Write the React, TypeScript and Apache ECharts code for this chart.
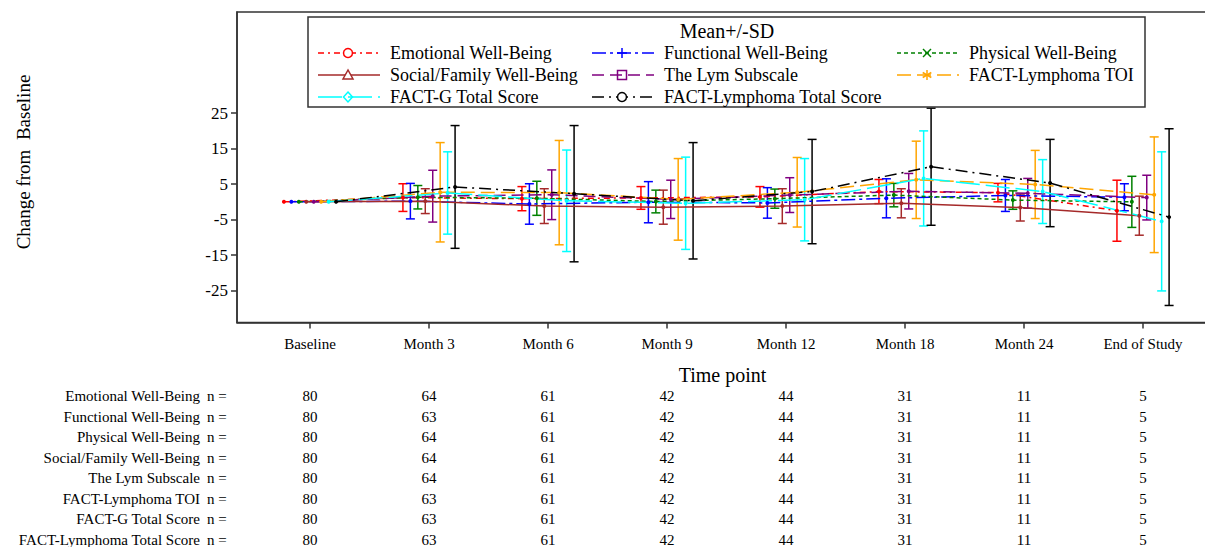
import React, { useEffect, useRef } from "react";
import * as echarts from "echarts";

// ---------- DATA ----------
const TIMEPOINTS = ["Baseline", "Month 3", "Month 6", "Month 9", "Month 12", "Month 18", "Month 24", "End of Study"];
const SERIES_NAMES = [
  "Emotional Well-Being",
  "Functional Well-Being",
  "Physical Well-Being",
  "Social/Family Well-Being",
  "The Lym Subscale",
  "FACT-Lymphoma TOI",
  "FACT-G Total Score",
  "FACT-Lymphoma Total Score",
];
const Y_TICKS = [-25, -15, -5, 5, 15, 25];

const EMOTIONAL_MEAN = [0, 1.2, 0.9, 1.1, 1.4, 2.9, 2.6, -2.5];
const EMOTIONAL_SD = [0, 3.9, 3.4, 3.2, 2.9, 3.4, 2.6, 8.6];
const FUNCTIONAL_MEAN = [0, 0.2, -0.6, -0.1, -0.3, 1.0, 1.8, 1.3];
const FUNCTIONAL_SD = [0, 5.0, 5.7, 5.8, 4.3, 5.5, 4.5, 3.8];
const PHYSICAL_MEAN = [0, 1.3, 1.0, 0.1, 0.9, 1.9, 0.5, 0.0];
const PHYSICAL_SD = [0, 3.3, 4.8, 3.2, 2.7, 3.3, 2.6, 7.2];
const SOCIAL_MEAN = [0, 0.2, -1.2, -1.5, -1.2, -0.4, -1.6, -3.9];
const SOCIAL_SD = [0, 3.5, 4.9, 4.8, 4.9, 4.1, 3.8, 5.5];
const LYM_MEAN = [0, 1.6, 2.0, 0.7, 1.9, 3.0, 2.4, 1.2];
const LYM_SD = [0, 7.3, 7.0, 5.4, 4.9, 5.0, 4.2, 6.3];
const TOI_MEAN = [0, 2.7, 2.6, 0.7, 2.7, 6.2, 4.9, 2.0];
const TOI_SD = [0, 14.0, 14.7, 11.5, 9.8, 10.9, 9.6, 16.3];
const FACTG_MEAN = [0, 2.5, 0.3, -0.4, 0.6, 6.6, 2.9, -5.5];
const FACTG_SD = [0, 11.6, 14.3, 13.0, 11.6, 13.4, 9.0, 19.6];
const TOTAL_MEAN = [0, 4.2, 2.3, 0.3, 2.9, 9.9, 5.3, -4.3];
const TOTAL_SD = [0, 17.3, 19.2, 16.4, 14.7, 16.5, 12.3, 24.9];

const N_EMOTIONAL = [80, 64, 61, 42, 44, 31, 11, 5];
const N_FUNCTIONAL = [80, 63, 61, 42, 44, 31, 11, 5];
const N_PHYSICAL = [80, 64, 61, 42, 44, 31, 11, 5];
const N_SOCIAL = [80, 64, 61, 42, 44, 31, 11, 5];
const N_LYM = [80, 64, 61, 42, 44, 31, 11, 5];
const N_TOI = [80, 63, 61, 42, 44, 31, 11, 5];
const N_FACTG = [80, 63, 61, 42, 44, 31, 11, 5];
const N_TOTAL = [80, 63, 61, 42, 44, 31, 11, 5];

const MEANS = [EMOTIONAL_MEAN, FUNCTIONAL_MEAN, PHYSICAL_MEAN, SOCIAL_MEAN, LYM_MEAN, TOI_MEAN, FACTG_MEAN, TOTAL_MEAN];
const SDS = [EMOTIONAL_SD, FUNCTIONAL_SD, PHYSICAL_SD, SOCIAL_SD, LYM_SD, TOI_SD, FACTG_SD, TOTAL_SD];
const NS = [N_EMOTIONAL, N_FUNCTIONAL, N_PHYSICAL, N_SOCIAL, N_LYM, N_TOI, N_FACTG, N_TOTAL];

// ---------- STYLE ----------
const FONT = '"Liberation Serif", "Times New Roman", Times, serif';
const COLORS = ["#FF0000", "#0000FF", "#008000", "#A52A2A", "#800080", "#FFA500", "#00FFFF", "#000000"];
const DASHES: any[] = [
  [6, 4, 2, 4],
  [14, 4, 3, 4],
  [4, 3],
  "solid",
  [12, 6],
  [14, 6],
  [24, 6],
  [12, 5, 2, 5],
];
const SYMBOLS = ["circle", "plus", "cross", "triangle", "square", "star", "diamond", "circle"];
const CLUSTER_STEP = 0.0626; // horizontal offset between series within a time point (axis units)

function legendSymbol(kind: string, cx: number, cy: number, color: string) {
  const st = { stroke: color, lineWidth: 1.5, fill: "#fff" };
  const ln = (x1: number, y1: number, x2: number, y2: number) => ({
    type: "line",
    shape: { x1, y1, x2, y2 },
    style: { stroke: color, lineWidth: 1.5 },
    silent: true,
  });
  switch (kind) {
    case "circle":
      return [{ type: "circle", shape: { cx, cy, r: 4.5 }, style: st, silent: true }];
    case "plus":
      return [ln(cx - 5, cy, cx + 5, cy), ln(cx, cy - 5, cx, cy + 5)];
    case "cross":
      return [ln(cx - 4, cy - 4, cx + 4, cy + 4), ln(cx - 4, cy + 4, cx + 4, cy - 4)];
    case "triangle":
      return [{ type: "polygon", shape: { points: [[cx, cy - 5], [cx - 5, cy + 4], [cx + 5, cy + 4]] }, style: st, silent: true }];
    case "square":
      return [{ type: "rect", shape: { x: cx - 4.5, y: cy - 4.5, width: 9, height: 9 }, style: { ...st, fill: "transparent" }, silent: true }];
    case "star":
      return [ln(cx, cy - 5, cx, cy + 5), ln(cx - 4.3, cy - 2.5, cx + 4.3, cy + 2.5), ln(cx - 4.3, cy + 2.5, cx + 4.3, cy - 2.5)];
    case "diamond":
      return [{ type: "polygon", shape: { points: [[cx, cy - 5], [cx + 4.5, cy], [cx, cy + 5], [cx - 4.5, cy]] }, style: { ...st, fill: "transparent" }, silent: true }];
  }
  return [];
}

export default function App() {
  const ref = useRef<HTMLDivElement>(null);

  useEffect(() => {
    if (!ref.current) return;
    const chart = echarts.init(ref.current, null, { renderer: "svg" });

    const series: any[] = [];
    SERIES_NAMES.forEach((name, k) => {
      const off = (k - 3.5) * CLUSTER_STEP;
      const color = COLORS[k];
      series.push({
        type: "custom",
        name: name + " SD",
        z: 2,
        encode: { x: 0, y: [1, 2] },
        data: TIMEPOINTS.map((_, t) => [t + 1 + off, MEANS[k][t] - SDS[k][t], MEANS[k][t] + SDS[k][t]]),
        renderItem: (params: any, api: any) => {
          const x = api.value(0);
          const lo = api.value(1);
          const hi = api.value(2);
          if (hi === lo) return null;
          const p1 = api.coord([x, hi]);
          const p2 = api.coord([x, lo]);
          const w = 4.5;
          const style = { stroke: color, lineWidth: 1.5, fill: null };
          return {
            type: "group",
            children: [
              { type: "line", shape: { x1: p1[0], y1: p1[1], x2: p2[0], y2: p2[1] }, style },
              { type: "line", shape: { x1: p1[0] - w, y1: p1[1], x2: p1[0] + w, y2: p1[1] }, style },
              { type: "line", shape: { x1: p2[0] - w, y1: p2[1], x2: p2[0] + w, y2: p2[1] }, style },
            ],
          };
        },
      });
      series.push({
        type: "line",
        name,
        z: 3,
        data: TIMEPOINTS.map((_, t) => [t + 1 + off, MEANS[k][t]]),
        symbol: "circle",
        symbolSize: 4,
        showSymbol: true,
        itemStyle: { color },
        lineStyle: { color, width: 1.5, type: DASHES[k] },
      });
    });

    const option: any = {
      animation: false,
      backgroundColor: "#fff",
      textStyle: { fontFamily: FONT },
      grid: {
        left: 237,
        top: 12,
        right: -3,
        bottom: 224.5,
        show: true,
        borderColor: "#333",
        borderWidth: 1.5,
        backgroundColor: "transparent",
        containLabel: false,
        outerBoundsMode: "none",
      },
      xAxis: {
        type: "value",
        min: 0.3866,
        max: 8.546,
        name: "Time point",
        nameLocation: "middle",
        nameGap: 42,
        nameTextStyle: { fontFamily: FONT, fontSize: 20, color: "#000" },
        axisLine: { show: true, onZero: false, lineStyle: { color: "#333", width: 1.5 } },
        axisTick: { show: true, length: 6, customValues: TIMEPOINTS.map((_, i) => i + 1), lineStyle: { color: "#333", width: 1.5 } },
        axisLabel: {
          customValues: TIMEPOINTS.map((_, i) => i + 1),
          formatter: (v: number) => TIMEPOINTS[Math.round(v) - 1] ?? "",
          fontFamily: FONT,
          fontSize: 15,
          color: "#000",
          margin: 14,
        },
        splitLine: { show: false },
      },
      yAxis: {
        type: "value",
        min: -34,
        max: 53.5,
        axisLine: { show: true, onZero: false, lineStyle: { color: "#333", width: 1.5 } },
        axisTick: { show: true, length: 6, customValues: Y_TICKS, lineStyle: { color: "#333", width: 1.5 } },
        axisLabel: { customValues: Y_TICKS, fontFamily: FONT, fontSize: 17, color: "#000", margin: 9 },
        splitLine: { show: false },
      },
      series,
    };
    chart.setOption(option);

    const xs = TIMEPOINTS.map((_, i) => chart.convertToPixel({ xAxisIndex: 0 } as any, i + 1) as number);

    const elements: any[] = [];
    // y axis title
    elements.push({
      type: "text",
      x: 23,
      y: 162,
      rotation: Math.PI / 2,
      silent: true,
      style: { text: "Change from  Baseline", fontFamily: FONT, fontSize: 19, fill: "#000", align: "center", verticalAlign: "middle" },
    });
    // legend box
    elements.push({
      type: "rect",
      shape: { x: 308, y: 17, width: 837, height: 90 },
      style: { fill: "#fff", stroke: "#333", lineWidth: 1.5 },
      z: 100,
      silent: true,
    });
    elements.push({
      type: "text",
      x: 727,
      y: 31,
      z: 101,
      silent: true,
      style: { text: "Mean+/-SD", fontFamily: FONT, fontSize: 20, fill: "#000", align: "center", verticalAlign: "middle" },
    });
    const colX = [318, 592, 897];
    const rowY = [53, 75, 97];
    SERIES_NAMES.forEach((name, k) => {
      const L = colX[k % 3];
      const cy = rowY[Math.floor(k / 3)];
      const dash = DASHES[k];
      elements.push({
        type: "line",
        z: 101,
        silent: true,
        shape: { x1: L, y1: cy, x2: L + 62, y2: cy },
        style: { stroke: COLORS[k], lineWidth: 1.5, lineDash: dash === "solid" ? null : dash },
      });
      legendSymbol(SYMBOLS[k], L + 30, cy, COLORS[k]).forEach((el: any) => elements.push({ ...el, z: 102 }));
      elements.push({
        type: "text",
        x: L + 72,
        y: cy,
        z: 101,
        silent: true,
        style: { text: name, fontFamily: FONT, fontSize: 18, fill: "#000", align: "left", verticalAlign: "middle" },
      });
    });
    // n table
    SERIES_NAMES.forEach((name, k) => {
      const y = 396 + k * 20.5;
      elements.push({
        type: "text",
        x: 200,
        y,
        silent: true,
        style: { text: name, fontFamily: FONT, fontSize: 15, fill: "#000", align: "right", verticalAlign: "middle" },
      });
      elements.push({
        type: "text",
        x: 207,
        y,
        silent: true,
        style: { text: "n =", fontFamily: FONT, fontSize: 15, fill: "#000", align: "left", verticalAlign: "middle" },
      });
      NS[k].forEach((n, t) => {
        elements.push({
          type: "text",
          x: xs[t],
          y,
          silent: true,
          style: { text: String(n), fontFamily: FONT, fontSize: 15, fill: "#000", align: "center", verticalAlign: "middle" },
        });
      });
    });

    chart.setOption({ graphic: { elements } });

    return () => chart.dispose();
  }, []);

  return <div ref={ref} style={{ position: "fixed", left: 0, top: 0, width: 1205, height: 547 }} />;
}
